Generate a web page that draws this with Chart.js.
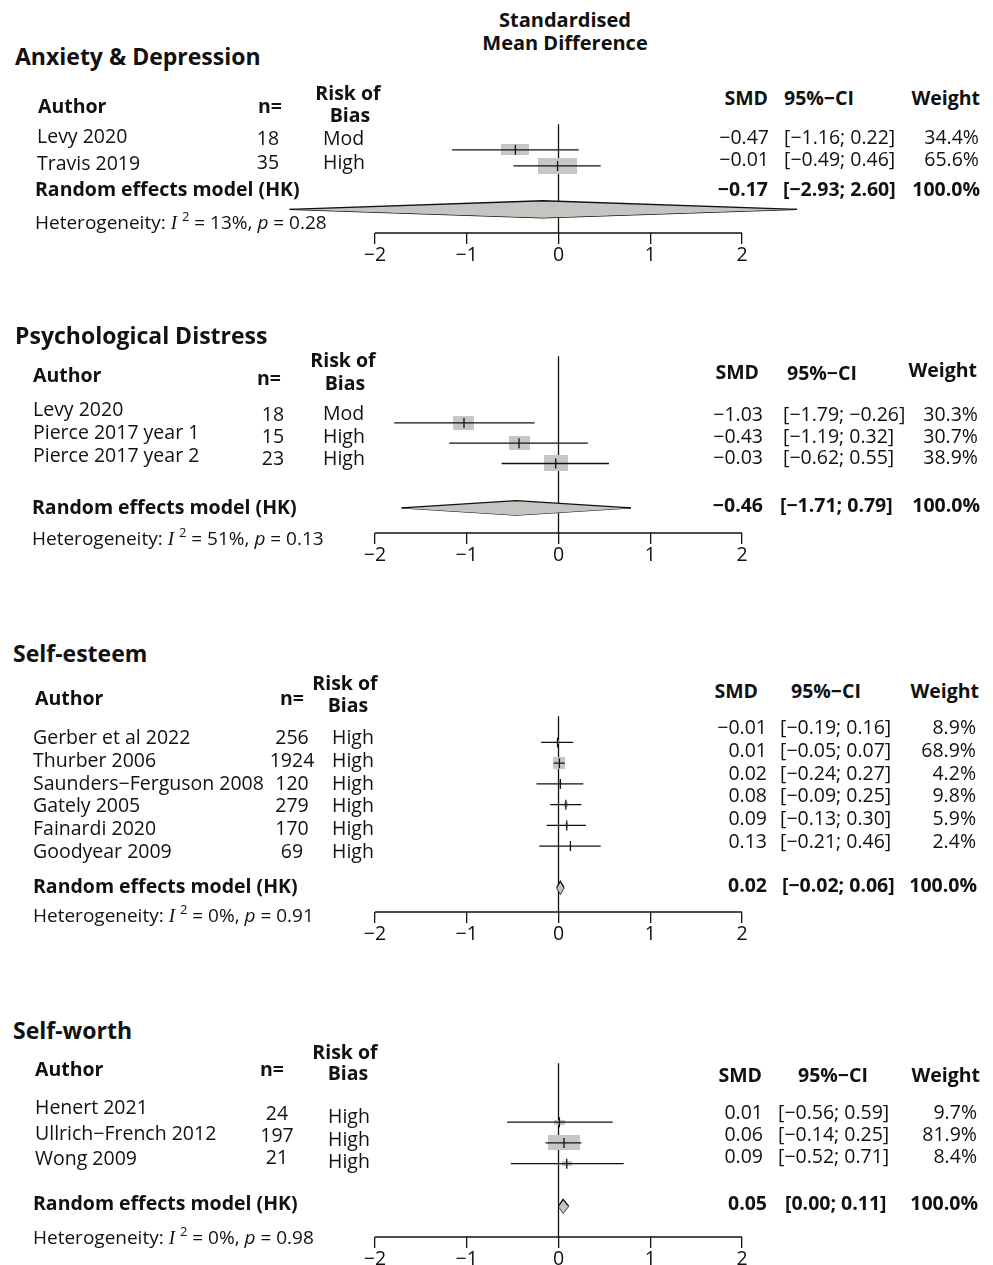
<!DOCTYPE html>
<html>
<head>
<meta charset="utf-8">
<script src="https://cdn.jsdelivr.net/npm/chart.js@4.4.0/dist/chart.umd.min.js"></script>
<style>
body { margin: 0; background: #fff; }
#page { position: relative; width: 993px; height: 1265px; overflow: hidden; font-family: "Open Sans", sans-serif; color: #111; }
.t { position: absolute; white-space: nowrap; line-height: 24px; font-size: 19.5px; }
.b { font-weight: 700; }
.t i.s { font-family: "Liberation Serif", serif; }
.t sup { font-size: 13px; vertical-align: 8px; line-height: 0; }
canvas { position: absolute; left: 0; }
</style>
</head>
<body>
<div id="page"></div>
<script>
// tick labels of the SMD axis
const smdTicks = [-2, -1, 0, 1, 2];

// Anxiety & Depression
const anxAuthor = ['Levy 2020', 'Travis 2019'];
const anxN = [18, 35];
const anxBias = ['Mod', 'High'];
const anxSmd = [-0.47, -0.01];
const anxLow = [-1.16, -0.49];
const anxHigh = [0.22, 0.46];
const anxWeight = [34.4, 65.6];
const anxPooled = [-0.17, -2.93, 2.60];
const anxHet = [13, 0.28];

// Psychological Distress
const disAuthor = ['Levy 2020', 'Pierce 2017 year 1', 'Pierce 2017 year 2'];
const disN = [18, 15, 23];
const disBias = ['Mod', 'High', 'High'];
const disSmd = [-1.03, -0.43, -0.03];
const disLow = [-1.79, -1.19, -0.62];
const disHigh = [-0.26, 0.32, 0.55];
const disWeight = [30.3, 30.7, 38.9];
const disPooled = [-0.46, -1.71, 0.79];
const disHet = [51, 0.13];

// Self-esteem
const estAuthor = ['Gerber et al 2022', 'Thurber 2006', 'Saunders\u2212Ferguson 2008', 'Gately 2005', 'Fainardi 2020', 'Goodyear 2009'];
const estN = [256, 1924, 120, 279, 170, 69];
const estBias = ['High', 'High', 'High', 'High', 'High', 'High'];
const estSmd = [-0.01, 0.01, 0.02, 0.08, 0.09, 0.13];
const estLow = [-0.19, -0.05, -0.24, -0.09, -0.13, -0.21];
const estHigh = [0.16, 0.07, 0.27, 0.25, 0.30, 0.46];
const estWeight = [8.9, 68.9, 4.2, 9.8, 5.9, 2.4];
const estPooled = [0.02, -0.02, 0.06];
const estHet = [0, 0.91];

// Self-worth
const worAuthor = ['Henert 2021', 'Ullrich\u2212French 2012', 'Wong 2009'];
const worN = [24, 197, 21];
const worBias = ['High', 'High', 'High'];
const worSmd = [0.01, 0.06, 0.09];
const worLow = [-0.56, -0.14, -0.52];
const worHigh = [0.59, 0.25, 0.71];
const worWeight = [9.7, 81.9, 8.4];
const worPooled = [0.05, 0.00, 0.11];
const worHet = [0, 0.98];

// page layout
const PAGE_W = 993;
const ZERO_PX = 558.5;
const UNIT_PX = 91.75;
const AXIS_H = 34;
const INK = '#111';
const BOX_GREY = '#c6c6c6';
const DIAMOND_GREY = '#c4c4c0';

const panels = [
  {
    title: 'Anxiety & Depression', author: anxAuthor, n: anxN, bias: anxBias, smd: anxSmd, low: anxLow, high: anxHigh,
    weight: anxWeight, pooled: anxPooled, het: anxHet,
    lay: {
      title: [15, 56], hAuthor: [38, 106], hN: [258, 106], hRisk: [348, 93], hBias: [350, 115],
      hSmd: [768, 98], hCi: [784, 98], hW: [980, 98],
      aX: 37, aY: 136, aStep: 27, nX: 268, nY: 138, nStep: 24, bX: 323, bY: 138, bStep: 24,
      vY: 137, vStep: 22, vSmd: 769, vCi: 784, vW: 979,
      sY: 189, sSmd: 768, sCi: 783, sW: 980, re: [35, 189], het: [35, 222],
      refTop: 118, axis: 233, row0: 145, pitch: 17, pooledRow: 3.7, dia: 9, kx: 4.85, ky: 1.95
    }
  },
  {
    title: 'Psychological Distress', author: disAuthor, n: disN, bias: disBias, smd: disSmd, low: disLow, high: disHigh,
    weight: disWeight, pooled: disPooled, het: disHet,
    lay: {
      title: [15, 335], hAuthor: [33, 375], hN: [257, 378], hRisk: [343, 360], hBias: [345, 383],
      hSmd: [759, 372], hCi: [787, 373], hW: [977, 370],
      aX: 33, aY: 409, aStep: 23, nX: 273, nY: 414, nStep: 22, bX: 323, bY: 413, bStep: 22.5,
      vY: 414, vStep: 21.5, vSmd: 763, vCi: 783, vW: 978,
      sY: 505, sSmd: 763, sCi: 780, sW: 980, re: [32, 507], het: [32, 538],
      refTop: 350, axis: 533, row0: 419, pitch: 21, pooledRow: 4.19, dia: 7.5, kx: 3.8, ky: 2.5
    }
  },
  {
    title: 'Self-esteem', author: estAuthor, n: estN, bias: estBias, smd: estSmd, low: estLow, high: estHigh,
    weight: estWeight, pooled: estPooled, het: estHet,
    lay: {
      title: [13, 653], hAuthor: [35, 698], hN: [280, 698], hRisk: [345, 683], hBias: [348, 705],
      hSmd: [758, 691], hCi: [791, 691], hW: [979, 691],
      aX: 33, aY: 737, aStep: 22.8, nX: 292, nY: 737, nStep: 22.8, bX: 332, bY: 737, bStep: 22.8,
      vY: 727, vStep: 22.8, vSmd: 767, vCi: 780, vW: 976,
      sY: 885, sSmd: 767, sCi: 782, sW: 977, re: [33, 886], het: [33, 915],
      refTop: 710, axis: 912, row0: 737, pitch: 21.4, pooledRow: 7.0, dia: 6.5, kx: 1.4, ky: 1.5
    }
  },
  {
    title: 'Self-worth', author: worAuthor, n: worN, bias: worBias, smd: worSmd, low: worLow, high: worHigh,
    weight: worWeight, pooled: worPooled, het: worHet,
    lay: {
      title: [13, 1030], hAuthor: [35, 1069], hN: [260, 1069], hRisk: [345, 1052], hBias: [348, 1073],
      hSmd: [762, 1075], hCi: [798, 1075], hW: [980, 1075],
      aX: 35, aY: 1107, aStep: 25.5, nX: 277, nY: 1113, nStep: 22, bX: 328, bY: 1116, bStep: 22.5,
      vY: 1112, vStep: 22, vSmd: 763, vCi: 778, vW: 977,
      sY: 1203, sSmd: 767, sCi: 785, sW: 978, re: [33, 1203], het: [33, 1237],
      refTop: 1057, axis: 1237, row0: 1118, pitch: 21.5, pooledRow: 4.05, dia: 7, kx: 3.5, ky: 1.65
    }
  }
];

const page = document.getElementById('page');

function num(v, d) {
  return (v < 0 ? '\u2212' : '') + Math.abs(v).toFixed(d);
}

function put(html, x, y, o = {}) {
  const d = document.createElement('div');
  d.className = 't' + (o.b ? ' b' : '');
  d.innerHTML = html;
  d.style.left = x + 'px';
  d.style.top = (y - 12) + 'px';
  if (o.size) d.style.fontSize = o.size + 'px';
  if (o.al === 'c') d.style.transform = 'translateX(-50%)';
  if (o.al === 'r') d.style.transform = 'translateX(-100%)';
  page.appendChild(d);
}

function boxImage(w, h) {
  const c = document.createElement('canvas');
  c.width = Math.max(1, Math.round(w));
  c.height = Math.max(1, Math.round(h));
  const g = c.getContext('2d');
  g.fillStyle = BOX_GREY;
  g.fillRect(0, 0, c.width, c.height);
  return c;
}

function drawForest(p) {
  const L = p.lay;
  const cv = document.createElement('canvas');
  cv.width = PAGE_W;
  cv.height = L.axis - L.refTop + AXIS_H;
  cv.style.top = L.refTop + 'px';
  page.appendChild(cv);

  const yMin = (L.refTop - L.row0) / L.pitch;
  const yMax = (L.axis - L.row0) / L.pitch;
  const boxes = p.weight.map(w => boxImage(L.kx * Math.sqrt(w), L.ky * Math.sqrt(w)));
  const studies = p.smd.map((v, i) => ({ x: v, y: i }));

  const datasets = [];
  p.smd.forEach((v, i) => {
    datasets.push({
      type: 'line', data: [{ x: p.low[i], y: i }, { x: p.high[i], y: i }],
      borderColor: INK, borderWidth: 1.3, pointRadius: 0, order: 1
    });
  });
  datasets.push({
    type: 'scatter', data: studies, pointRadius: 1, order: 2,
    pointStyle: c => (c.type === 'data' ? boxes[c.dataIndex] : 'rect')
  });
  datasets.push({
    type: 'scatter', data: studies, pointStyle: 'line', rotation: 90, pointRadius: 5,
    borderColor: INK, borderWidth: 1.3, order: 0
  });

  const [est, lo, hi] = p.pooled;
  const s = L.pooledRow;
  const dh = L.dia / L.pitch;
  datasets.push({
    type: 'line', data: [{ x: lo, y: s }, { x: est, y: s - dh }, { x: hi, y: s }],
    fill: '+1', backgroundColor: DIAMOND_GREY, borderColor: INK, borderWidth: 1.3, pointRadius: 0, order: 1
  });
  datasets.push({
    type: 'line', data: [{ x: lo, y: s }, { x: est, y: s + dh }, { x: hi, y: s }],
    fill: false, borderColor: INK, borderWidth: 1.3, pointRadius: 0, order: 1
  });
  // line of no effect
  datasets.push({
    type: 'line', data: [{ x: 0, y: yMin }, { x: 0, y: yMax }],
    borderColor: INK, borderWidth: 1.3, pointRadius: 0, order: 3, clip: false
  });
  // axis line over the tick range
  datasets.push({
    type: 'line', data: [{ x: smdTicks[0], y: yMax }, { x: smdTicks[smdTicks.length - 1], y: yMax }],
    borderColor: INK, borderWidth: 1.3, pointRadius: 0, order: 3, clip: false
  });

  const chart = new Chart(cv.getContext('2d'), {
    type: 'scatter',
    data: { datasets: datasets },
    options: {
      responsive: false,
      animation: false,
      events: [],
      layout: { padding: 0 },
      elements: { line: { tension: 0 } },
      plugins: { legend: { display: false }, tooltip: { enabled: false } },
      scales: {
        x: {
          type: 'linear', min: -ZERO_PX / UNIT_PX, max: (PAGE_W - ZERO_PX) / UNIT_PX,
          afterBuildTicks: sc => { sc.ticks = smdTicks.map(v => ({ value: v })); },
          afterFit: sc => { sc.height = AXIS_H; },
          border: { display: false },
          grid: { drawOnChartArea: false, drawTicks: true, tickLength: 11, color: INK, lineWidth: 1.3 },
          ticks: {
            padding: 0, color: INK, autoSkip: false, maxRotation: 0,
            font: { family: 'Open Sans', size: 19.5 },
            callback: v => num(v, 0)
          }
        },
        y: { type: 'linear', display: false, reverse: true, min: yMin, max: yMax }
      }
    }
  });

  // match the x scale to the page: the chart area may be inset by label padding
  for (let k = 0; k < 2; k++) {
    const a = chart.chartArea;
    chart.options.scales.x.min = (a.left - ZERO_PX) / UNIT_PX;
    chart.options.scales.x.max = (a.right - ZERO_PX) / UNIT_PX;
    chart.update('none');
  }
}

function drawText(p) {
  const L = p.lay;
  put(p.title, L.title[0], L.title[1], { b: true, size: 23 });
  put('Author', L.hAuthor[0], L.hAuthor[1], { b: true });
  put('n=', L.hN[0], L.hN[1], { b: true });
  put('Risk of', L.hRisk[0], L.hRisk[1], { b: true, al: 'c' });
  put('Bias', L.hBias[0], L.hBias[1], { b: true, al: 'c' });
  put('SMD', L.hSmd[0], L.hSmd[1], { b: true, al: 'r' });
  put('95%\u2212CI', L.hCi[0], L.hCi[1], { b: true });
  put('Weight', L.hW[0], L.hW[1], { b: true, al: 'r' });

  p.author.forEach((a, i) => {
    put(a, L.aX, L.aY + i * L.aStep);
    put(String(p.n[i]), L.nX, L.nY + i * L.nStep, { al: 'c' });
    put(p.bias[i], L.bX, L.bY + i * L.bStep);
    const y = L.vY + i * L.vStep;
    put(num(p.smd[i], 2), L.vSmd, y, { al: 'r' });
    put('[' + num(p.low[i], 2) + '; ' + num(p.high[i], 2) + ']', L.vCi, y);
    put(p.weight[i].toFixed(1) + '%', L.vW, y, { al: 'r' });
  });

  const [est, lo, hi] = p.pooled;
  put('Random effects model (HK)', L.re[0], L.re[1], { b: true });
  put(num(est, 2), L.sSmd, L.sY, { b: true, al: 'r' });
  put('[' + num(lo, 2) + '; ' + num(hi, 2) + ']', L.sCi, L.sY, { b: true });
  put('100.0%', L.sW, L.sY, { b: true, al: 'r' });
  put('Heterogeneity: <i class="s">I</i> <sup>2</sup> = ' + p.het[0] + '%, <i>p</i> = ' + p.het[1].toFixed(2),
    L.het[0], L.het[1], { size: 19 });
}

panels.forEach(drawForest);
panels.forEach(drawText);
put('Standardised', 565, 20, { b: true, al: 'c', size: 20 });
put('Mean Difference', 565, 43, { b: true, al: 'c', size: 20 });
</script>
</body>
</html>
